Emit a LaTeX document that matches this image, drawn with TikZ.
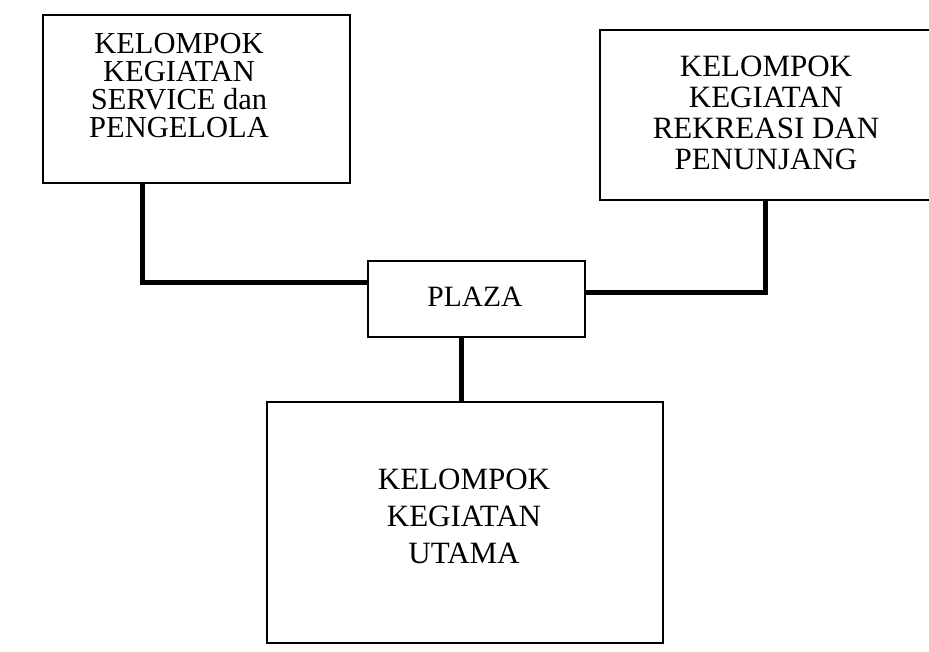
\documentclass[tikz,border=0pt]{standalone}
\usepackage{fontspec}
\setmainfont{Liberation Serif}
\begin{document}
\begin{tikzpicture}[x=1pt,y=-1pt,
  box/.style={draw, line width=1.2pt, rectangle, inner sep=0pt},
  conn/.style={line width=5pt},
  lbl/.style={align=center, inner sep=0pt}]
\useasboundingbox (0,0) rectangle (929,651);
% boxes
\node[box, minimum width=307pt, minimum height=168pt] (L) at (196.5,99) {};
\node[box, minimum width=336pt, minimum height=170pt] (R) at (768,115) {};
\node[box, minimum width=217pt, minimum height=76pt] (P) at (476.5,299) {};
\node[box, minimum width=396pt, minimum height=241pt] (B) at (465,522.5) {};
% labels
\node[lbl, font=\fontsize{30.5}{28}\selectfont] (Lt) at (179,86) {KELOMPOK\\KEGIATAN\\SERVICE dan\\PENGELOLA};
\node[lbl, font=\fontsize{31}{31}\selectfont] (Rt) at (766,113) {KELOMPOK\\KEGIATAN\\REKREASI DAN\\PENUNJANG};
\node[lbl, font=\fontsize{29.5}{30}\selectfont] (Pt) at (475,297) {PLAZA};
\node[lbl, font=\fontsize{31}{37}\selectfont] (Bt) at (464,516) {KELOMPOK\\KEGIATAN\\UTAMA};
% connectors
\draw[conn] ([xshift=-54.5pt]L.south) |- ([yshift=17pt]P.west);
\draw[conn] ([yshift=7pt]P.east) -| ([xshift=-3pt]R.south);
\draw[conn] ([xshift=-15.5pt]P.south) -- ([xshift=-4pt]B.north);
\end{tikzpicture}
\end{document}
